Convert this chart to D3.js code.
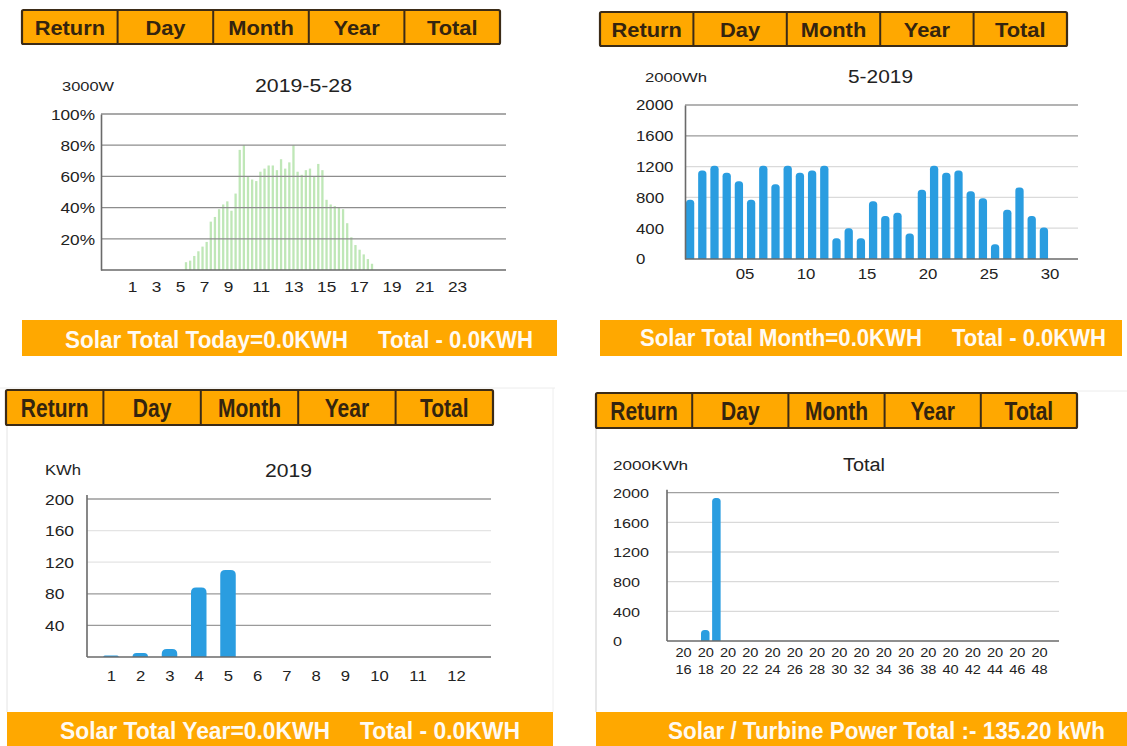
<!DOCTYPE html>
<html><head><meta charset="utf-8">
<script src="https://cdn.jsdelivr.net/npm/d3@7"></script>
<style>
html,body{margin:0;padding:0;background:#fff;}
svg{display:block;}
</style></head><body>
<svg id="c" width="1127" height="746"></svg>
<script>
// ---------------- DATA ----------------
const navLabels = ["Return","Day","Month","Year","Total"];

// Day view (2019-5-28), % of 3000W, 15-minute slots
const dayTitle = "2019-5-28";
const dayUnit = "3000W";
const daySlots = [6.75,7,7.25,7.5,7.75,8,8.25,8.5,8.75,9,9.25,9.5,9.75,10,10.25,10.5,10.75,11,11.25,11.5,11.75,12,12.25,12.5,12.75,13,13.25,13.5,13.75,14,14.25,14.5,14.75,15,15.25,15.5,15.75,16,16.25,16.5,16.75,17,17.25,17.5,17.75,18];
const dayPct = [5,6,9,12,15,18,31,34,39,42,44,38,49,77,80,60,58,57,63,65,67,67,64,71,65,69,80,63,61,64,65,60,68,64,45,42,41,40,39,30,21,16,13,10,7,4];
const dayXTicks = [1,3,5,7,9,11,13,15,17,19,21,23];
const dayYTicks = [20,40,60,80,100];
const dayFooter = ["Solar Total Today=0.0KWH","Total - 0.0KWH"];

// Month view (5-2019), Wh per day
const monthTitle = "5-2019";
const monthUnit = "2000Wh";
const monthDays = [1,2,3,4,5,6,7,8,9,10,11,12,13,14,15,16,17,18,19,20,21,22,23,24,25,26,27,28,29,30];
const monthWh = [770,1150,1210,1120,1010,770,1210,970,1210,1120,1150,1210,270,400,270,750,560,600,330,900,1210,1120,1150,880,790,190,640,930,560,410];
const monthXTicks = [5,10,15,20,25,30];
const monthYTicks = [0,400,800,1200,1600,2000];
const monthFooter = ["Solar Total Month=0.0KWH","Total - 0.0KWH"];

// Year view (2019), KWh per month
const yearTitle = "2019";
const yearUnit = "KWh";
const yearMonths = [1,2,3,4,5];
const yearKWh = [2,5,10,88,110];
const yearXTicks = [1,2,3,4,5,6,7,8,9,10,11,12];
const yearYTicks = [40,80,120,160,200];
const yearFooter = ["Solar Total Year=0.0KWH","Total - 0.0KWH"];

// Total view, KWh per year
const totalTitle = "Total";
const totalUnit = "2000KWh";
const totalYears = [2018,2019];
const totalKWh = [150,1930];
const totalXTicks = [2016,2018,2020,2022,2024,2026,2028,2030,2032,2034,2036,2038,2040,2042,2044,2046,2048];
const totalYTicks = [0,400,800,1200,1600,2000];
const totalFooter = ["Solar / Turbine Power Total :- 135.20 kWh"];

// ---------------- STYLE ----------------
const FONT = "'Liberation Sans', Arial, Helvetica, sans-serif";
const ORANGE = "#FFA800", BORDER = "#3b2b17", BTN_TEXT = "#34240f";
const BLUE = "#2a9de0", GREEN = "#bfe7b7", AXIS = "#6a6a6a";
const fmt = d3.format("d");

const svg = d3.select("#c").attr("font-family", FONT);
svg.append("rect").attr("width",1127).attr("height",746).attr("fill","#fff");

function txt(parent, x, y, s, o = {}) {
  const sx = o.sx || 1, sy = o.sy || 1;
  const t = parent.append("text")
    .attr("transform", `translate(${x},${y}) scale(${sx},${sy})`)
    .attr("font-size", o.size || 14)
    .attr("font-weight", o.weight || "normal")
    .attr("fill", o.fill || "#222")
    .attr("text-anchor", o.anchor || "start")
    .text(s);
  if (o.len) t.attr("textLength", o.len / sx).attr("lengthAdjust", "spacingAndGlyphs");
  return t;
}

function roundTop(x, y, w, h, r) {
  r = Math.max(0, Math.min(r, w / 2, h));
  return `M${x},${y + h}V${y + r}Q${x},${y} ${x + r},${y}H${x + w - r}Q${x + w},${y} ${x + w},${y + r}V${y + h}Z`;
}

function navBar(x0, x1, y0, y1, o) {
  const b = d3.scaleBand().domain(navLabels).range([x0, x1]);
  const g = svg.append("g");
  g.append("rect").attr("x", x0).attr("y", y0).attr("width", x1 - x0).attr("height", y1 - y0)
    .attr("fill", ORANGE).attr("stroke", BORDER).attr("stroke-width", 2.2).attr("rx", 1.5);
  g.selectAll("line").data(navLabels.slice(1)).join("line")
    .attr("x1", d => b(d)).attr("x2", d => b(d)).attr("y1", y0).attr("y2", y1)
    .attr("stroke", BORDER).attr("stroke-width", 2);
  navLabels.forEach(l => txt(g, b(l) + b.bandwidth() / 2, (y0 + y1) / 2 + o.dy, l,
    { size: o.size, weight: "bold", fill: BTN_TEXT, anchor: "middle", sx: o.sx, sy: o.sy }));
}

function footer(x0, x1, y0, y1, pieces) {
  svg.append("rect").attr("x", x0).attr("y", y0).attr("width", x1 - x0).attr("height", y1 - y0).attr("fill", ORANGE);
  pieces.forEach(p => txt(svg, p.x, p.y, p.s, { size: 23, weight: "bold", fill: "#fffaf2", len: p.len }));
}

function styleY(ag, axisX, labelX, anchor, sx, size) {
  ag.attr("font-family", FONT).attr("font-size", size);
  ag.select(".domain").attr("stroke", AXIS).attr("stroke-width", 1.6);
  ag.selectAll(".tick line").remove();
  ag.selectAll(".tick text").attr("text-anchor", anchor).attr("x", (labelX - axisX) / sx)
    .attr("dy", "0.35em").attr("transform", `scale(${sx},1)`).attr("fill", "#222");
}
function styleX(ag, base, sx, size, anchor, dx) {
  ag.attr("font-family", FONT).attr("font-size", size);
  ag.select(".domain").remove();
  ag.selectAll(".tick line").remove();
  ag.selectAll(".tick text").attr("y", base).attr("dy", 0).attr("x", (dx || 0) / sx)
    .attr("text-anchor", anchor || "middle").attr("transform", `scale(${sx},1)`).attr("fill", "#222");
}

// screenshot frame lines
svg.append("line").attr("x1",0).attr("x2",555).attr("y1",388).attr("y2",388).attr("stroke","#ececec");
svg.append("line").attr("x1",7).attr("x2",7).attr("y1",425).attr("y2",712).attr("stroke","#e4e4e4");
svg.append("line").attr("x1",553).attr("x2",553).attr("y1",388).attr("y2",712).attr("stroke","#eeeeee");
svg.append("line").attr("x1",596).attr("x2",596).attr("y1",428).attr("y2",712).attr("stroke","#cfcfcf");
svg.append("line").attr("x1",1077).attr("x2",1127).attr("y1",391).attr("y2",391).attr("stroke","#ececec");

// ---------------- PANEL 1: DAY ----------------
{
  navBar(22, 500, 10, 44, { size: 21, dy: 7.5, sx: 1.04, sy: 1 });
  const g = svg.append("g");
  const x = d3.scaleLinear().domain([0, 24]).range([74.4, 471.2]);
  const xl = d3.scaleLinear().domain([1, 9, 23]).range([132, 228, 457]);
  const y = d3.scaleLinear().domain([0, 100]).range([270, 114]);
  txt(g, 62, 91, dayUnit, { size: 12, len: 52 });
  txt(g, 255, 92, dayTitle, { size: 18, len: 97 });
  g.selectAll("rect.bar").data(daySlots).join("rect").attr("class", "bar")
    .attr("x", d => x(d) - 1.15).attr("width", 2.3)
    .attr("y", (d, i) => y(dayPct[i])).attr("height", (d, i) => y(0) - y(dayPct[i]))
    .attr("fill", GREEN);
  g.selectAll("line.grid").data(dayYTicks).join("line").attr("class", "grid")
    .attr("x1", 101).attr("x2", 506).attr("y1", d => y(d)).attr("y2", d => y(d))
    .attr("stroke", "#8d8d8d").attr("stroke-width", 1.3);
  g.append("line").attr("x1", 101).attr("x2", 506).attr("y1", y(0)).attr("y2", y(0)).attr("stroke", AXIS).attr("stroke-width", 1.6);
  const ya = g.append("g").attr("transform", "translate(101,0)")
    .call(d3.axisLeft(y).tickValues(dayYTicks).tickSize(0).tickFormat(d => d + "%"));
  styleY(ya, 101, 95, "end", 1.15, 15);
  const xa = g.append("g").attr("transform", `translate(0,${y(0)})`)
    .call(d3.axisBottom(xl).tickValues(dayXTicks).tickSize(0).tickFormat(fmt));
  styleX(xa, 22, 1.15, 15, "middle");
  footer(22, 557, 320, 356, [{ x: 65, y: 348, s: dayFooter[0], len: 283 }, { x: 378, y: 348, s: dayFooter[1], len: 155 }]);
}

// ---------------- PANEL 2: MONTH ----------------
{
  navBar(600, 1067, 12, 46, { size: 21, dy: 7.5, sx: 1.04, sy: 1 });
  const g = svg.append("g");
  const x = d3.scaleBand().domain(monthDays).range([684, 1050]).paddingInner(0.32).paddingOuter(0.16);
  const y = d3.scaleLinear().domain([0, 2000]).range([259, 105]);
  txt(g, 645, 82, monthUnit, { size: 13, len: 62 });
  txt(g, 848, 83, monthTitle, { size: 18, len: 65 });
  g.selectAll("line.grid").data(monthYTicks.filter(d => d > 0)).join("line").attr("class", "grid")
    .attr("x1", 685).attr("x2", 1078).attr("y1", d => y(d)).attr("y2", d => y(d))
    .attr("stroke", d => d >= 1600 ? "#9a9a9a" : "#dadada").attr("stroke-width", 1.3);
  g.selectAll("path.bar").data(monthDays).join("path").attr("class", "bar")
    .attr("d", (d, i) => roundTop(x(d), y(monthWh[i]), x.bandwidth(), y(0) - y(monthWh[i]), 3.5))
    .attr("fill", BLUE);
  g.append("line").attr("x1", 685).attr("x2", 1078).attr("y1", y(0)).attr("y2", y(0)).attr("stroke", AXIS).attr("stroke-width", 1.6);
  const ya = g.append("g").attr("transform", "translate(685,0)")
    .call(d3.axisLeft(y).tickValues(monthYTicks).tickSize(0).tickFormat(fmt));
  styleY(ya, 685, 636, "start", 1.2, 14);
  const xa = g.append("g").attr("transform", `translate(0,${y(0)})`)
    .call(d3.axisBottom(x).tickValues(monthXTicks).tickSize(0).tickFormat(d3.format("02d")));
  styleX(xa, 20, 1.2, 14, "start", -x.bandwidth() / 2 + 1);
  footer(600, 1122, 320, 356, [{ x: 640, y: 346, s: monthFooter[0], len: 282 }, { x: 952, y: 346, s: monthFooter[1], len: 154 }]);
}

// ---------------- PANEL 3: YEAR ----------------
{
  navBar(6, 493, 390, 425, { size: 21, dy: 9.5, sx: 1.0, sy: 1.27 });
  const g = svg.append("g");
  const x = d3.scaleLinear().domain([1, 9, 10, 12]).range([111, 345, 379, 456]);
  const y = d3.scaleLinear().domain([0, 200]).range([657, 499]);
  txt(g, 45, 475, yearUnit, { size: 14, len: 36 });
  txt(g, 265, 477, yearTitle, { size: 18, len: 47 });
  g.selectAll("line.grid").data(yearYTicks).join("line").attr("class", "grid")
    .attr("x1", 87).attr("x2", 491).attr("y1", d => y(d)).attr("y2", d => y(d))
    .attr("stroke", d => (d === 160 || d === 120) ? "#e4e4e4" : "#9a9a9a").attr("stroke-width", 1.3);
  const bw = 15.5;
  g.selectAll("path.bar").data(yearMonths).join("path").attr("class", "bar")
    .attr("d", (d, i) => roundTop(x(d) - bw / 2, y(yearKWh[i]), bw, y(0) - y(yearKWh[i]), 5))
    .attr("fill", BLUE);
  g.append("line").attr("x1", 87).attr("x2", 491).attr("y1", y(0)).attr("y2", y(0)).attr("stroke", AXIS).attr("stroke-width", 1.6);
  const ya = g.append("g").attr("transform", "translate(87,0)")
    .call(d3.axisLeft(y).tickValues(yearYTicks).tickSize(0).tickFormat(fmt));
  styleY(ya, 87, 45, "start", 1.2, 14.5);
  ya.select(".domain").attr("d", `M0,${y(0)}V${y(200) - 4}`);
  const xa = g.append("g").attr("transform", `translate(0,${y(0)})`)
    .call(d3.axisBottom(x).tickValues(yearXTicks).tickSize(0).tickFormat(fmt));
  styleX(xa, 24, 1.15, 14.5, "middle");
  footer(7, 553, 712, 746, [{ x: 60, y: 739, s: yearFooter[0], len: 270 }, { x: 360, y: 739, s: yearFooter[1], len: 160 }]);
}

// ---------------- PANEL 4: TOTAL ----------------
{
  navBar(596, 1077, 393, 428, { size: 21, dy: 9.5, sx: 1.0, sy: 1.27 });
  const g = svg.append("g");
  const x = d3.scaleLinear().domain([2016, 2048]).range([683, 1039]);
  const y = d3.scaleLinear().domain([0, 2000]).range([641, 492.7]);
  txt(g, 613, 470, totalUnit, { size: 13, len: 75 });
  txt(g, 843, 471, totalTitle, { size: 18, len: 42 });
  g.selectAll("line.grid").data(totalYTicks.filter(d => d > 0)).join("line").attr("class", "grid")
    .attr("x1", 667).attr("x2", 1059).attr("y1", d => y(d)).attr("y2", d => y(d))
    .attr("stroke", d => d === 2000 ? "#a0a0a0" : "#d9d9d9").attr("stroke-width", 1.3);
  const bw = 8.5;
  g.selectAll("path.bar").data(totalYears).join("path").attr("class", "bar")
    .attr("d", (d, i) => roundTop(x(d) - bw / 2, y(totalKWh[i]), bw, y(0) - y(totalKWh[i]), 3.5))
    .attr("fill", BLUE);
  g.append("line").attr("x1", 667).attr("x2", 1059).attr("y1", y(0)).attr("y2", y(0)).attr("stroke", AXIS).attr("stroke-width", 1.6);
  const ya = g.append("g").attr("transform", "translate(667,0)")
    .call(d3.axisLeft(y).tickValues(totalYTicks).tickSize(0).tickFormat(fmt));
  styleY(ya, 667, 613, "start", 1.2, 13.5);
  ya.select(".domain").attr("d", `M0,${y(0)}V${y(2000) - 3}`);
  const xa = g.append("g").attr("transform", `translate(0,${y(0)})`)
    .call(d3.axisBottom(x).tickValues(totalXTicks).tickSize(0).tickFormat(fmt));
  styleX(xa, 16, 1.08, 13.5, "middle");
  xa.selectAll(".tick text").each(function (d) {
    const t = d3.select(this); const s = String(d);
    t.text(null);
    t.append("tspan").attr("x", 0).text(s.slice(0, 2));
    t.append("tspan").attr("x", 0).attr("dy", 17).text(s.slice(2));
  });
  footer(596, 1127, 712, 746, [{ x: 668, y: 739, s: totalFooter[0], len: 437 }]);
}
</script>
</body></html>
